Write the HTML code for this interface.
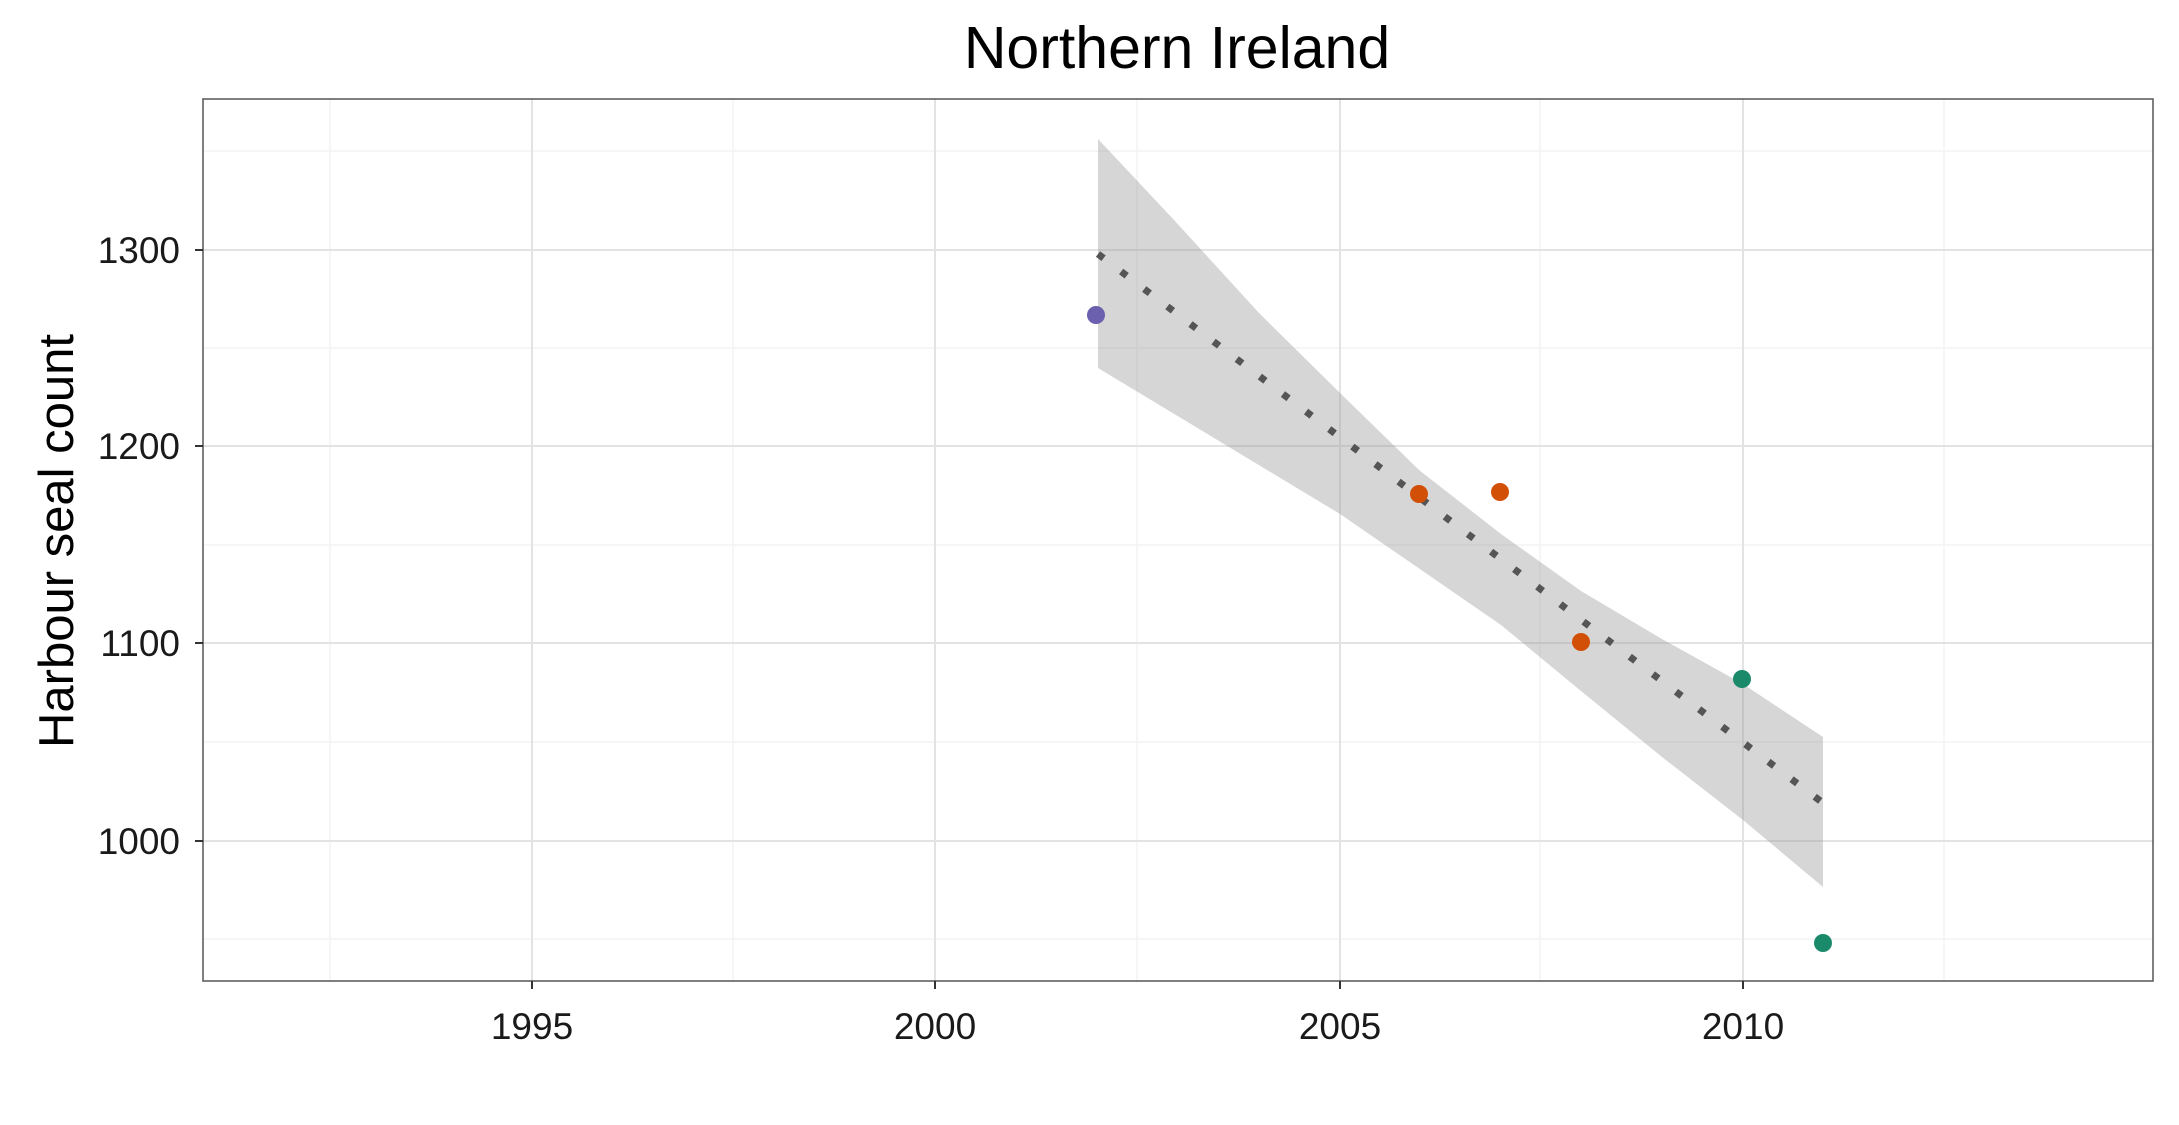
<!DOCTYPE html>
<html><head><meta charset="utf-8"><style>
html,body{margin:0;padding:0;background:#fff;}
svg{display:block;font-family:"Liberation Sans",Arial,sans-serif;}
</style></head><body>
<svg width="2179" height="1125" viewBox="0 0 2179 1125">
<rect width="2179" height="1125" fill="#fff"/>
<g stroke="#f3f3f3" stroke-width="1.5">
<line x1="330" y1="99" x2="330" y2="981"/><line x1="733" y1="99" x2="733" y2="981"/>
<line x1="1137" y1="99" x2="1137" y2="981"/><line x1="1540" y1="99" x2="1540" y2="981"/>
<line x1="1944" y1="99" x2="1944" y2="981"/>
<line x1="203" y1="151" x2="2153" y2="151"/><line x1="203" y1="348" x2="2153" y2="348"/>
<line x1="203" y1="545" x2="2153" y2="545"/><line x1="203" y1="742" x2="2153" y2="742"/>
<line x1="203" y1="939" x2="2153" y2="939"/>
</g>
<g stroke="#e3e3e3" stroke-width="2">
<line x1="532" y1="99" x2="532" y2="981"/><line x1="935" y1="99" x2="935" y2="981"/>
<line x1="1340" y1="99" x2="1340" y2="981"/><line x1="1743" y1="99" x2="1743" y2="981"/>
<line x1="203" y1="250" x2="2153" y2="250"/><line x1="203" y1="446" x2="2153" y2="446"/>
<line x1="203" y1="643" x2="2153" y2="643"/><line x1="203" y1="841" x2="2153" y2="841"/>
</g>
<polygon fill="#999" fill-opacity="0.4" points="1098,139 1174,220 1259,313 1340,393 1419,470 1501,534 1581,591 1662,639 1743,684 1823,737 1823,887 1743,820 1662,757 1581,691 1501,625 1340,514 1098,368"/>
<line x1="1098" y1="254" x2="1823" y2="803" stroke="#555" stroke-width="7" stroke-dasharray="7 22"/>
<circle cx="1096" cy="315" r="9" fill="#6a60ad"/>
<circle cx="1419" cy="494" r="9" fill="#d24f07"/>
<circle cx="1500" cy="492" r="9" fill="#d24f07"/>
<circle cx="1581" cy="642" r="9" fill="#d24f07"/>
<circle cx="1742" cy="679" r="9" fill="#1b8a6a"/>
<circle cx="1823" cy="943" r="9" fill="#1b8a6a"/>
<rect x="203" y="99" width="1950" height="882" fill="none" stroke="#555" stroke-width="1.5"/>
<g stroke="#333" stroke-width="2">
<line x1="195" y1="250" x2="203" y2="250"/><line x1="195" y1="446" x2="203" y2="446"/>
<line x1="195" y1="643" x2="203" y2="643"/><line x1="195" y1="841" x2="203" y2="841"/>
<line x1="532" y1="981" x2="532" y2="989"/><line x1="935" y1="981" x2="935" y2="989"/>
<line x1="1340" y1="981" x2="1340" y2="989"/><line x1="1743" y1="981" x2="1743" y2="989"/>
</g>
<g font-size="37" fill="#1a1a1a" text-anchor="end">
<text x="180" y="263">1300</text><text x="180" y="459">1200</text>
<text x="180" y="656">1100</text><text x="180" y="854">1000</text>
</g>
<g font-size="37" fill="#1a1a1a" text-anchor="middle">
<text x="532" y="1039">1995</text><text x="935" y="1039">2000</text>
<text x="1340" y="1039">2005</text><text x="1743" y="1039">2010</text>
</g>
<text x="1177" y="68" font-size="59" text-anchor="middle" fill="#000">Northern Ireland</text>
<text transform="translate(73,541) rotate(-90)" font-size="49" text-anchor="middle" fill="#000">Harbour seal count</text>
</svg>
</body></html>
